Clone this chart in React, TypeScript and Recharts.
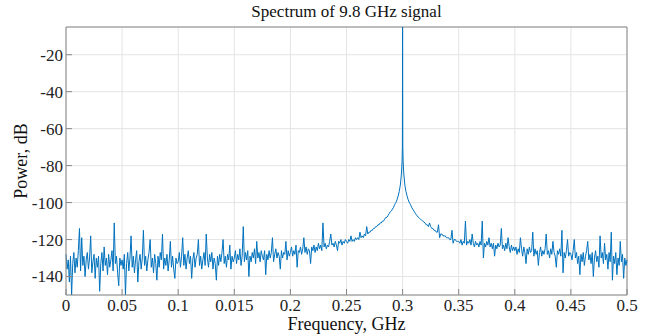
import { LineChart, Line, XAxis, YAxis, CartesianGrid, ReferenceLine, Label } from 'recharts';

// noise floor, one value every 0.001 GHz from 0 to 0.5 (ten rows of 0.05 GHz)
const noiseStep = 0.001;
const noiseDb = [
  -128, -136, -131, -143, -129, -150, -133, -127, -138, -130, -135, -126, -114, -137, -119, -134, -129, -140, -131, -127, -136, -130, -118, -138, -132,
  -128, -141, -130, -135, -129, -148, -133, -127, -137, -124, -134, -130, -139, -128, -135, -131, -126, -137, -111, -133, -129, -138, -145, -130, -134,
  -131, -136, -128, -150, -133, -127, -137, -130, -118, -135, -129, -138, -131, -126, -143, -132, -128, -136, -130, -115, -134, -129, -137, -131, -127,
  -120, -135, -130, -138, -128, -133, -142, -129, -135, -127, -131, -117, -136, -130, -134, -128, -137, -131, -121, -135, -129, -136, -141, -130, -133,
  -132, -127, -135, -129, -119, -134, -128, -136, -130, -126, -133, -129, -141, -131, -127, -135, -130, -128, -120, -134, -129, -136, -131, -127, -134,
  -117, -130, -135, -128, -132, -127, -136, -130, -133, -142, -129, -134, -128, -132, -127, -120, -133, -129, -135, -128, -131, -123, -136, -129, -132,
  -130, -126, -133, -128, -131, -125, -134, -129, -113, -132, -127, -131, -126, -140, -129, -132, -127, -130, -125, -133, -121, -130, -127, -132, -126,
  -129, -131, -126, -139, -128, -131, -126, -130, -127, -119, -132, -128, -125, -130, -127, -129, -136, -126, -130, -127, -128, -121, -131, -126, -129,
  -127, -124, -129, -126, -128, -123, -135, -126, -127, -124, -128, -125, -119, -127, -124, -128, -125, -126, -133, -124, -126, -123, -127, -124, -126,
  -122, -125, -123, -126, -111, -124, -122, -125, -123, -124, -121, -117, -123, -122, -124, -121, -123, -126, -121, -122, -120, -123, -121, -122, -120,
  -121, -122, -120, -121, -118, -121, -120, -121, -119, -120, -119, -120, -116, -119, -118, -119, -117, -118, -113, -117, -116, -116, -115, -115, -114,
  -114, -113, -113, -112, -112, -111, -111, -110, -110, -109, -108, -108, -107, -106, -105, -104.5, -103.5, -102.5, -101, -100, -98.5, -96.5, -94, -90.5, -84,
  -5, -84, -90.5, -94, -96.5, -98.5, -100, -101, -102.5, -103.5, -104.5, -105.5, -106.5, -107, -108, -108.5, -109, -109.5, -110, -110.5, -111, -112, -112, -113, -111,
  -113, -114, -114, -115, -115, -116, -116, -112, -119, -117, -117, -118, -118, -118, -119, -119, -119, -120, -120, -115, -122, -120, -120, -121, -121,
  -121, -122, -120, -123, -121, -122, -110, -123, -121, -122, -120, -123, -117, -122, -124, -121, -123, -122, -124, -121, -123, -110, -130, -122, -124,
  -121, -123, -119, -124, -122, -125, -122, -129, -123, -125, -122, -124, -123, -114, -125, -123, -126, -122, -125, -119, -124, -127, -123, -126, -124,
  -126, -124, -128, -125, -127, -119, -125, -129, -124, -127, -133, -125, -128, -124, -127, -126, -116, -129, -125, -128, -126, -134, -127, -124, -129,
  -126, -128, -125, -117, -128, -126, -130, -125, -128, -121, -127, -129, -135, -126, -128, -125, -129, -115, -138, -127, -130, -126, -120, -129, -127,
  -128, -131, -126, -120, -130, -127, -133, -129, -139, -128, -132, -127, -134, -129, -126, -121, -131, -128, -133, -127, -140, -130, -126, -132, -129,
  -135, -118, -130, -127, -133, -122, -131, -128, -136, -127, -132, -116, -142, -129, -133, -127, -139, -130, -134, -121, -132, -128, -141, -130, -134, -131,
];

// carrier peak at 0.3 GHz
const peakFreq = [0.2995, 0.2998, 0.3, 0.3002, 0.3005];
const peakDb = [-78, -70, -5, -70, -78];

const xTicks = [0, 0.05, 0.1, 0.15, 0.2, 0.25, 0.3, 0.35, 0.4, 0.45, 0.5];
const xTickLabels = ['0', '0.05', '0.1', '0.015', '0.2', '0.25', '0.3', '0.35', '0.4', '0.45', '0.5'];
const yTicks = [-140, -120, -100, -80, -60, -40, -20];

const data = noiseDb
  .map((db, i) => ({ f: Math.round(i * noiseStep * 10000) / 10000, db }))
  .filter((p) => Math.abs(p.f - 0.3) > 0.0004)
  .concat(peakFreq.map((f, i) => ({ f, db: peakDb[i] })))
  .sort((a, b) => a.f - b.f);

const SERIF = 'Liberation Serif';

function XTick(props: any) {
  const { x, y, index } = props;
  return (
    <g>
      <line x1={x} x2={x} y1={y - 4} y2={y - 10} stroke="#888" />
      <text x={x} y={y} dy="0.72em" textAnchor="middle" fontFamily={SERIF} fontSize={17} fill="#222">
        {xTickLabels[index]}
      </text>
    </g>
  );
}

function YTick(props: any) {
  const { x, y, payload } = props;
  return (
    <g>
      <line x1={x + 3} x2={x + 9} y1={y} y2={y} stroke="#888" />
      <text x={x} y={y} dy="0.35em" textAnchor="end" fontFamily={SERIF} fontSize={17} fill="#222">
        {payload.value}
      </text>
    </g>
  );
}

export default function App() {
  return (
    <div
      style={{
        position: 'absolute',
        left: 0,
        top: 0,
        width: 650,
        height: 336,
        background: '#fff',
        fontFamily: SERIF,
      }}
    >
      <div
        style={{
          position: 'absolute',
          top: 2,
          left: 66,
          width: 561,
          textAlign: 'center',
          fontSize: 17,
          color: '#111',
        }}
      >
        Spectrum of 9.8 GHz signal
      </div>
      <LineChart width={650} height={336} data={data} margin={{ top: 27, right: 23, left: 0, bottom: 0 }}>
        <CartesianGrid stroke="#e4e4e4" />
        <XAxis
          dataKey="f"
          type="number"
          domain={[0, 0.5]}
          ticks={xTicks}
          tick={<XTick />}
          tickLine={false}
          tickSize={0}
          tickMargin={4}
          height={41}
          stroke="#888"
          interval={0}
        >
          <Label value="Frequency, GHz" position="insideBottom" offset={6} style={{ fontSize: 18, fill: '#111', fontFamily: SERIF }} />
        </XAxis>
        <YAxis
          type="number"
          domain={[-150, -5]}
          allowDataOverflow
          ticks={yTicks}
          tick={<YTick />}
          tickLine={false}
          tickSize={0}
          tickMargin={3}
          width={66}
          stroke="#888"
          interval={0}
        >
          <Label value="Power, dB" angle={-90} position="insideLeft" offset={21} style={{ fontSize: 18, fill: '#111', textAnchor: 'middle', fontFamily: SERIF }} />
        </YAxis>
        <ReferenceLine y={-5} stroke="#888" />
        <ReferenceLine x={0.5} stroke="#888" />
        <Line
          type="linear"
          dataKey="db"
          stroke="#0072bd"
          strokeWidth={1}
          dot={false}
          isAnimationActive={false}
        />
      </LineChart>
    </div>
  );
}
